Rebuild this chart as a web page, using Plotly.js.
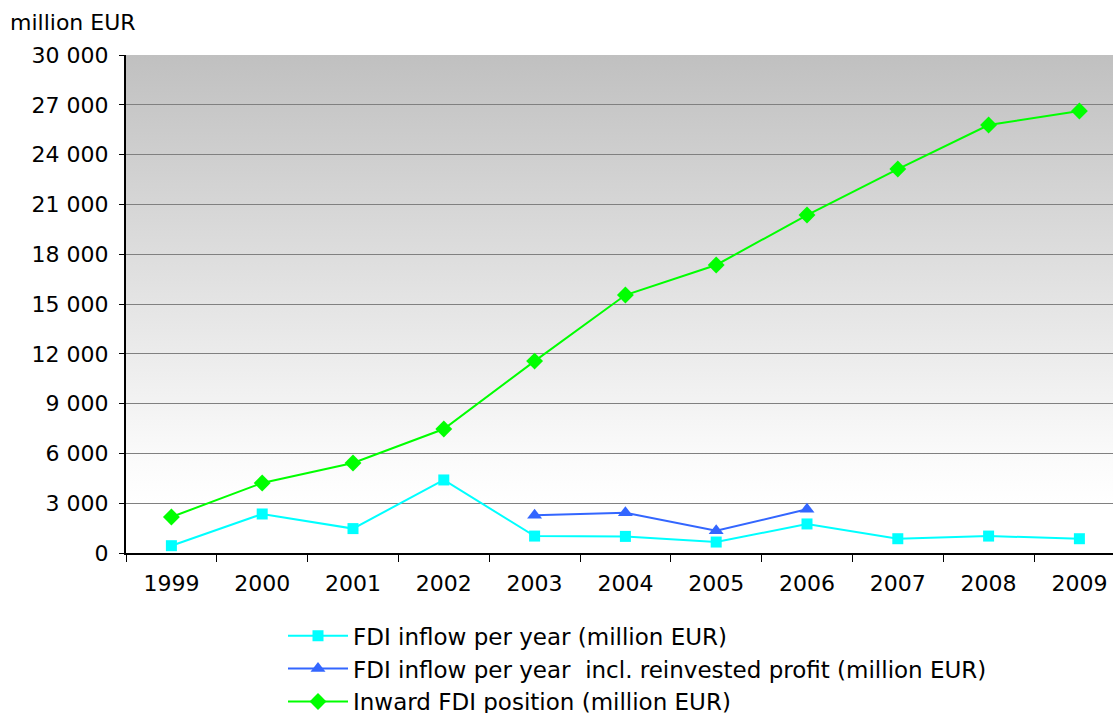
<!DOCTYPE html>
<html><head><meta charset="utf-8">
<script src="https://cdn.plot.ly/plotly-3.0.1.min.js"></script>
<style>html,body{margin:0;padding:0;background:#fff}#chart{width:1113px;height:713px}</style>
</head><body><div id="chart"></div>
<script>
const years = ['1999','2000','2001','2002','2003','2004','2005','2006','2007','2008','2009'];
const fdiInflow = [440, 2350, 1470, 4400, 1020, 1000, 660, 1750, 860, 1020, 860];
const fdiInflowReinv = [null, null, null, null, 2270, 2430, 1340, 2630, null, null, null];
const inwardPosition = [2170, 4220, 5420, 7470, 11560, 15540, 17350, 20360, 23130, 25780, 26630];
const yTicks = [0, 3000, 6000, 9000, 12000, 15000, 18000, 21000, 24000, 27000, 30000];

const font = {family: 'DejaVu Sans, Verdana, sans-serif', size: 22, color: '#000'};
const legendFont = {family: 'DejaVu Sans, Verdana, sans-serif', size: 23, color: '#000'};

const svg = "<svg xmlns='http://www.w3.org/2000/svg' width='100' height='100' preserveAspectRatio='none'><defs><linearGradient id='g' x1='0' y1='0' x2='0' y2='1'><stop offset='0' stop-color='#c0c0c0'/><stop offset='0.8' stop-color='#fafafa'/><stop offset='0.9' stop-color='#ffffff'/><stop offset='1' stop-color='#ffffff'/></linearGradient></defs><rect width='100' height='100' fill='url(#g)'/></svg>";
const bg = 'data:image/svg+xml;charset=utf-8,' + encodeURIComponent(svg);

const traces = [
  {x: years, y: fdiInflow, name: 'FDI inflow per year (million EUR)', type: 'scatter', mode: 'lines+markers',
   line: {color: '#00ffff', width: 2}, marker: {symbol: 'square', size: 11, color: '#00ffff'}, legendgroup: 'a'},
  {x: years, y: fdiInflowReinv, name: 'FDI inflow per year  incl. reinvested profit (million EUR)', type: 'scatter', mode: 'lines+markers',
   line: {color: '#3366ff', width: 2}, marker: {symbol: 'triangle-up', size: 13, color: '#3366ff'}, legendgroup: 'b'},
  {x: years, y: inwardPosition, name: 'Inward FDI position (million EUR)', type: 'scatter', mode: 'lines+markers',
   line: {color: '#00ff00', width: 2}, marker: {symbol: 'diamond', size: 13, color: '#00ff00'}, legendgroup: 'c'}
];

const layout = {
  width: 1113, height: 713,
  margin: {l: 126, r: 0, t: 55, b: 160, autoexpand: false},
  paper_bgcolor: '#fff', plot_bgcolor: 'rgba(0,0,0,0)',
  font: font,
  separators: ', ',
  showlegend: true,
  annotations: [{text: 'million EUR', xref: 'paper', yref: 'paper', x: -118/987, y: 1 + 33/498, xanchor: 'left', yanchor: 'middle', showarrow: false, font: font}],
  images: [{source: bg, xref: 'paper', yref: 'paper', x: 0, y: 1, sizex: 1, sizey: 1, sizing: 'stretch', xanchor: 'left', yanchor: 'top', layer: 'below'}],
  xaxis: {type: 'category', range: [-0.5, 10.37], tickson: 'boundaries', ticks: 'outside', ticklen: 7, tickcolor: '#000',
          showline: true, linecolor: '#000', linewidth: 2, showgrid: false, tickfont: font, ticklabelstandoff: 10, fixedrange: true},
  yaxis: {range: [0, 30000], tickvals: yTicks, tickformat: ',d', ticks: 'outside', ticklen: 5, tickcolor: '#000',
          showline: true, linecolor: '#000', linewidth: 2, showgrid: true, gridcolor: '#808080', gridwidth: 1,
          zeroline: false, tickfont: font, ticklabelstandoff: 6, fixedrange: true},
  legend: {x: (283-126)/987, y: -0.123, xanchor: 'left', yanchor: 'top', font: legendFont, bgcolor: 'rgba(0,0,0,0)',
           traceorder: 'grouped', tracegroupgap: 0, itemwidth: 60}
};

Plotly.newPlot('chart', traces, layout, {displayModeBar: false, staticPlot: true});
</script></body></html>
